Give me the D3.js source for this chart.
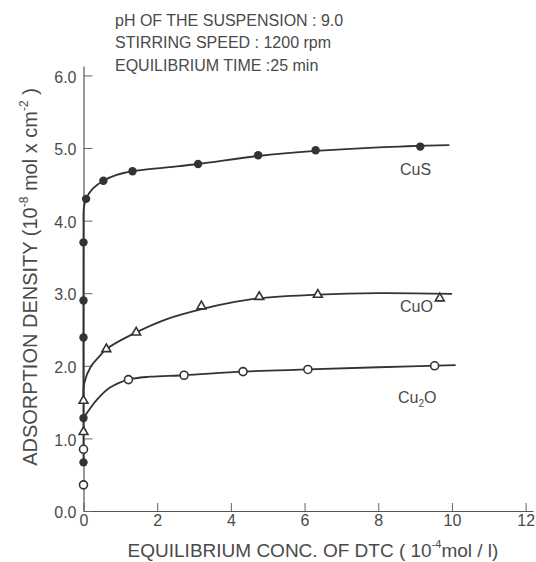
<!DOCTYPE html>
<html><head><meta charset="utf-8">
<script src="https://cdn.jsdelivr.net/npm/d3@7"></script>
<style>
body{margin:0;background:#fff;}
svg text{font-family:"Liberation Sans",Arial,Helvetica,sans-serif;fill:#4a4a4a;}
</style></head>
<body><svg id="c" width="536" height="562"></svg>
<script>
// ---- data ----
const xTicks = [0, 2, 4, 6, 8, 10, 12];
const yTicks = [0, 1, 2, 3, 4, 5, 6];
const yTickLabels = ["0.0","1.0","2.0","3.0","4.0","5.0","6.0"];
const headerLines = ["pH OF THE SUSPENSION : 9.0", "STIRRING SPEED : 1200 rpm", "EQUILIBRIUM TIME :25 min"];

// measured points
const cusX = [0, 0, 0, 0, 0, 0.07, 0.54, 1.33, 3.11, 4.74, 6.30, 9.14];
const cusY = [0.67, 1.28, 2.39, 2.90, 3.70, 4.30, 4.55, 4.68, 4.78, 4.90, 4.97, 5.02];
const cuoX = [0, 0, 0.62, 1.43, 3.20, 4.77, 6.36, 9.67];
const cuoY = [1.09, 1.52, 2.23, 2.46, 2.82, 2.95, 2.98, 2.93];
const cu2oX = [0, 0, 1.22, 2.73, 4.33, 6.09, 9.53];
const cu2oY = [0.36, 0.85, 1.81, 1.87, 1.92, 1.95, 2.00];

// fitted curves
const cusCurveX = [0, 0, 0.01, 0.07, 0.25, 0.54, 0.9, 1.33, 2.2, 3.11, 4.74, 6.3, 8.0, 9.93];
const cusCurveY = [0.67, 3.9, 4.18, 4.30, 4.44, 4.55, 4.63, 4.68, 4.73, 4.78, 4.89, 4.96, 5.01, 5.04];
const cuoCurveX = [0, 0.02, 0.2, 0.43, 0.62, 1.43, 2.3, 3.2, 4.0, 4.77, 6.36, 8.0, 10.0];
const cuoCurveY = [1.50, 1.76, 1.99, 2.13, 2.23, 2.46, 2.65, 2.78, 2.87, 2.93, 2.98, 3.0, 2.99];
const cu2oCurveX = [0, 0.36, 0.72, 1.22, 1.8, 2.73, 4.33, 6.09, 8.0, 10.1];
const cu2oCurveY = [1.28, 1.53, 1.70, 1.81, 1.85, 1.87, 1.92, 1.95, 1.98, 2.01];

// ---- drawing ----
const svg = d3.select("#c");
const x = d3.scaleLinear().domain([0, 12.2]).range([83.5, 533]);
const y = d3.scaleLinear().domain([0, 6.13]).range([511, 66]);
const ink = "#333";

// header
svg.append("g").selectAll("text").data(headerLines).join("text")
  .attr("x", 115).attr("y", (d, i) => [26, 48, 71][i])
  .attr("font-size", 16).text(d => d);

// axes
const gx = svg.append("g").attr("transform", "translate(0,511)")
  .call(d3.axisBottom(x).tickValues(xTicks).tickSizeInner(-8).tickSizeOuter(0).tickPadding(4));
const gy = svg.append("g").attr("transform", "translate(83.5,0)")
  .call(d3.axisLeft(y).tickValues(yTicks).tickFormat((d, i) => yTickLabels[i]).tickSizeInner(-9).tickSizeOuter(0).tickPadding(7));
[gx, gy].forEach(g => {
  g.select(".domain").attr("stroke", "#555").attr("stroke-width", 1.2);
  g.selectAll(".tick line").attr("stroke", "#666").attr("stroke-width", 1);
  g.selectAll(".tick text").attr("font-size", 16).attr("fill", "#4a4a4a")
    .attr("font-family", "Liberation Sans, Arial, sans-serif");
});
gy.selectAll(".tick text").attr("dy", "0.42em");

// curves
const line = d3.line().x(d => x(d[0])).y(d => y(d[1])).curve(d3.curveCatmullRom.alpha(0.5));
const curves = [
  d3.zip(cusCurveX, cusCurveY),
  d3.zip(cuoCurveX, cuoCurveY),
  d3.zip(cu2oCurveX, cu2oCurveY)
];
svg.append("g").selectAll("path").data(curves).join("path")
  .attr("d", line).attr("fill", "none").attr("stroke", ink).attr("stroke-width", 1.8);

// markers
svg.append("g").selectAll("circle").data(d3.zip(cusX, cusY)).join("circle")
  .attr("cx", d => x(d[0])).attr("cy", d => y(d[1])).attr("r", 4.2).attr("fill", ink);
svg.append("g").selectAll("circle").data(d3.zip(cu2oX, cu2oY)).join("circle")
  .attr("cx", d => x(d[0])).attr("cy", d => y(d[1])).attr("r", 4)
  .attr("fill", "#fff").attr("stroke", ink).attr("stroke-width", 1.6);
const tri = d3.symbol(d3.symbolTriangle, 34);
svg.append("g").selectAll("path").data(d3.zip(cuoX, cuoY)).join("path")
  .attr("transform", d => `translate(${x(d[0])},${y(d[1])})`).attr("d", tri)
  .attr("fill", "#fff").attr("stroke", ink).attr("stroke-width", 1.6);

// series labels
svg.append("text").attr("x", 400).attr("y", 175).attr("font-size", 16).text("CuS");
svg.append("text").attr("x", 400).attr("y", 312).attr("font-size", 16).text("CuO");
const t2 = svg.append("text").attr("x", 398).attr("y", 403).attr("font-size", 16);
t2.append("tspan").text("Cu");
t2.append("tspan").attr("font-size", 10).attr("dy", 4).text("2");
t2.append("tspan").attr("dy", -4).text("O");

// axis titles
const xt = svg.append("text").attr("x", 313).attr("y", 557).attr("text-anchor", "middle").attr("font-size", 19);
xt.append("tspan").text("EQUILIBRIUM CONC. OF DTC ( 10");
xt.append("tspan").attr("font-size", 11).attr("dy", -9).text("-4");
xt.append("tspan").attr("dy", 9).text("mol / l)");

const yt = svg.append("text").attr("transform", "translate(37,277) rotate(-90)")
  .attr("text-anchor", "middle").attr("font-size", 20);
yt.append("tspan").text("ADSORPTION DENSITY  (10");
yt.append("tspan").attr("font-size", 12).attr("dy", -9).text("-8");
yt.append("tspan").attr("dy", 9).text(" mol x cm");
yt.append("tspan").attr("font-size", 12).attr("dy", -9).text("-2");
yt.append("tspan").attr("dy", 9).text(" )");
</script></body></html>
